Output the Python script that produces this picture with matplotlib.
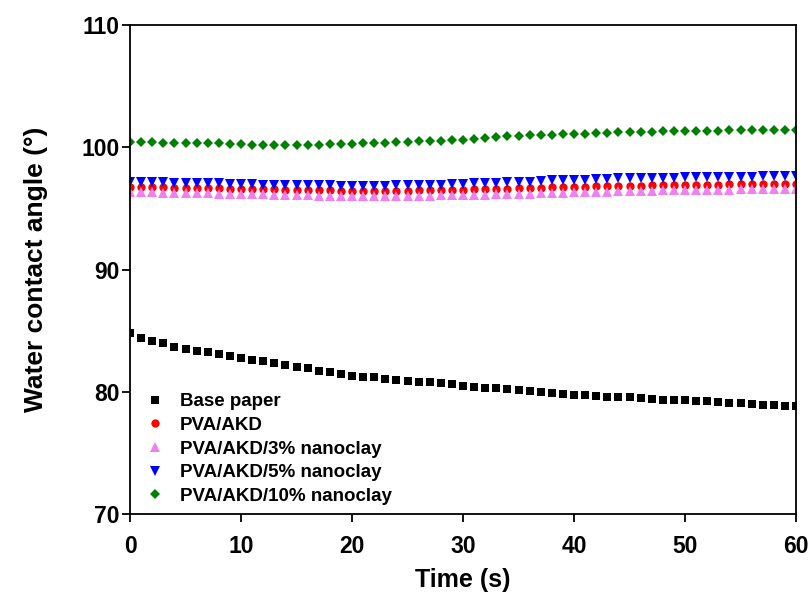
import matplotlib
matplotlib.use("Agg")
import matplotlib.pyplot as plt

# contact angle measurements, one reading per second
time_s = list(range(0, 61))

base_paper = [84.80, 84.40, 84.18, 83.96, 83.69, 83.50, 83.36, 83.23, 83.09, 82.90,
              82.76, 82.62, 82.49, 82.35, 82.20, 82.05, 81.92, 81.67, 81.59, 81.45,
              81.31, 81.23, 81.18, 81.04, 80.96, 80.88, 80.82, 80.80, 80.70, 80.63,
              80.50, 80.42, 80.31, 80.31, 80.23, 80.17, 80.04, 79.95, 79.90, 79.82,
              79.76, 79.73, 79.63, 79.60, 79.60, 79.55, 79.49, 79.41, 79.35, 79.33,
              79.33, 79.27, 79.27, 79.19, 79.08, 79.05, 79.00, 78.94, 78.92, 78.81,
              78.81]

pva_akd = [96.75, 96.75, 96.72, 96.72, 96.70, 96.70, 96.68, 96.66, 96.64, 96.62,
           96.60, 96.58, 96.56, 96.55, 96.53, 96.52, 96.50, 96.48, 96.47, 96.46,
           96.45, 96.45, 96.45, 96.45, 96.46, 96.46, 96.47, 96.48, 96.50, 96.50,
           96.52, 96.55, 96.58, 96.60, 96.62, 96.65, 96.68, 96.70, 96.72, 96.74,
           96.76, 96.78, 96.80, 96.82, 96.84, 96.85, 96.87, 96.88, 96.90, 96.91,
           96.92, 96.93, 96.94, 96.95, 96.96, 96.97, 96.98, 96.99, 97.00, 97.00,
           97.00]

nanoclay_3 = [96.35, 96.34, 96.32, 96.30, 96.28, 96.27, 96.25, 96.23, 96.22, 96.20,
              96.18, 96.16, 96.14, 96.12, 96.10, 96.09, 96.07, 96.05, 96.04, 96.03,
              96.02, 96.02, 96.02, 96.02, 96.03, 96.03, 96.04, 96.05, 96.06, 96.07,
              96.08, 96.10, 96.12, 96.15, 96.17, 96.20, 96.22, 96.25, 96.27, 96.30,
              96.32, 96.34, 96.36, 96.38, 96.40, 96.42, 96.44, 96.45, 96.47, 96.48,
              96.50, 96.51, 96.52, 96.53, 96.54, 96.55, 96.56, 96.57, 96.58, 96.59,
              96.60]

nanoclay_5 = [97.20, 97.20, 97.15, 97.15, 97.10, 97.10, 97.10, 97.05, 97.05, 97.00,
              97.00, 97.00, 96.95, 96.95, 96.95, 96.90, 96.90, 96.90, 96.90, 96.85,
              96.85, 96.85, 96.85, 96.85, 96.90, 96.90, 96.90, 96.95, 96.95, 97.00,
              97.00, 97.05, 97.10, 97.10, 97.15, 97.20, 97.20, 97.25, 97.30, 97.30,
              97.35, 97.35, 97.40, 97.40, 97.45, 97.45, 97.45, 97.50, 97.50, 97.50,
              97.55, 97.55, 97.55, 97.60, 97.60, 97.60, 97.60, 97.65, 97.65, 97.65,
              97.65]

nanoclay_10 = [100.40, 100.40, 100.40, 100.35, 100.32, 100.32, 100.32, 100.32, 100.32, 100.27,
               100.27, 100.21, 100.21, 100.21, 100.21, 100.21, 100.21, 100.21, 100.27, 100.27,
               100.27, 100.32, 100.32, 100.35, 100.40, 100.46, 100.48, 100.54, 100.54, 100.59,
               100.60, 100.67, 100.76, 100.86, 100.89, 100.95, 101.00, 101.03, 101.03, 101.08,
               101.08, 101.08, 101.17, 101.17, 101.22, 101.22, 101.27, 101.27, 101.30, 101.30,
               101.36, 101.36, 101.36, 101.36, 101.41, 101.41, 101.41, 101.41, 101.44, 101.44,
               101.44]

series_labels = ["Base paper", "PVA/AKD", "PVA/AKD/3% nanoclay",
                 "PVA/AKD/5% nanoclay", "PVA/AKD/10% nanoclay"]

x_ticks = [0, 10, 20, 30, 40, 50, 60]
y_ticks = [70, 80, 90, 100, 110]

plt.rcParams['font.family'] = ['Liberation Sans', 'DejaVu Sans']
plt.rcParams['font.weight'] = 'bold'

fig = plt.figure(figsize=(8.09, 5.97), dpi=100)
ax = fig.add_axes([0.1607, 0.139, 0.8233, 0.819])

# marker styles per sample
styles = [
    (base_paper, 's', 'black', 5.6),
    (pva_akd, 'o', 'red', 6.0),
    (nanoclay_3, '^', '#f080f0', 7.2),
    (nanoclay_5, 'v', 'blue', 7.2),
    (nanoclay_10, 'D', 'green', 5.6),
]
for (vals, mk, col, ms), lab in zip(styles, series_labels):
    ax.plot(time_s, vals, linestyle='none', marker=mk, color=col,
            markersize=ms, markeredgewidth=0, label=lab)

ax.set_xlim(0, 60)
ax.set_ylim(70, 110)
ax.set_xticks(x_ticks)
ax.set_yticks(y_ticks)
ax.tick_params(direction='out', length=6, width=1.3, labelsize=16.5, pad=1.5)
ax.tick_params(axis='x', pad=9)
for lbl in ax.get_xticklabels() + ax.get_yticklabels():
    lbl.set_fontweight('bold')
for sp in ax.spines.values():
    sp.set_linewidth(1.3)

ax.set_xlabel("Time (s)", fontsize=18, fontweight='bold', labelpad=7)
ax.set_ylabel("Water contact angle (°)", fontsize=19, fontweight='bold', labelpad=24)

leg = ax.legend(loc='lower left', bbox_to_anchor=(0.012, 0.003), frameon=False,
                fontsize=13.5, handlelength=1.0, handletextpad=0.83,
                labelspacing=0.35, borderaxespad=0.1, borderpad=0.3)

fig.savefig("out.png", dpi=100)
